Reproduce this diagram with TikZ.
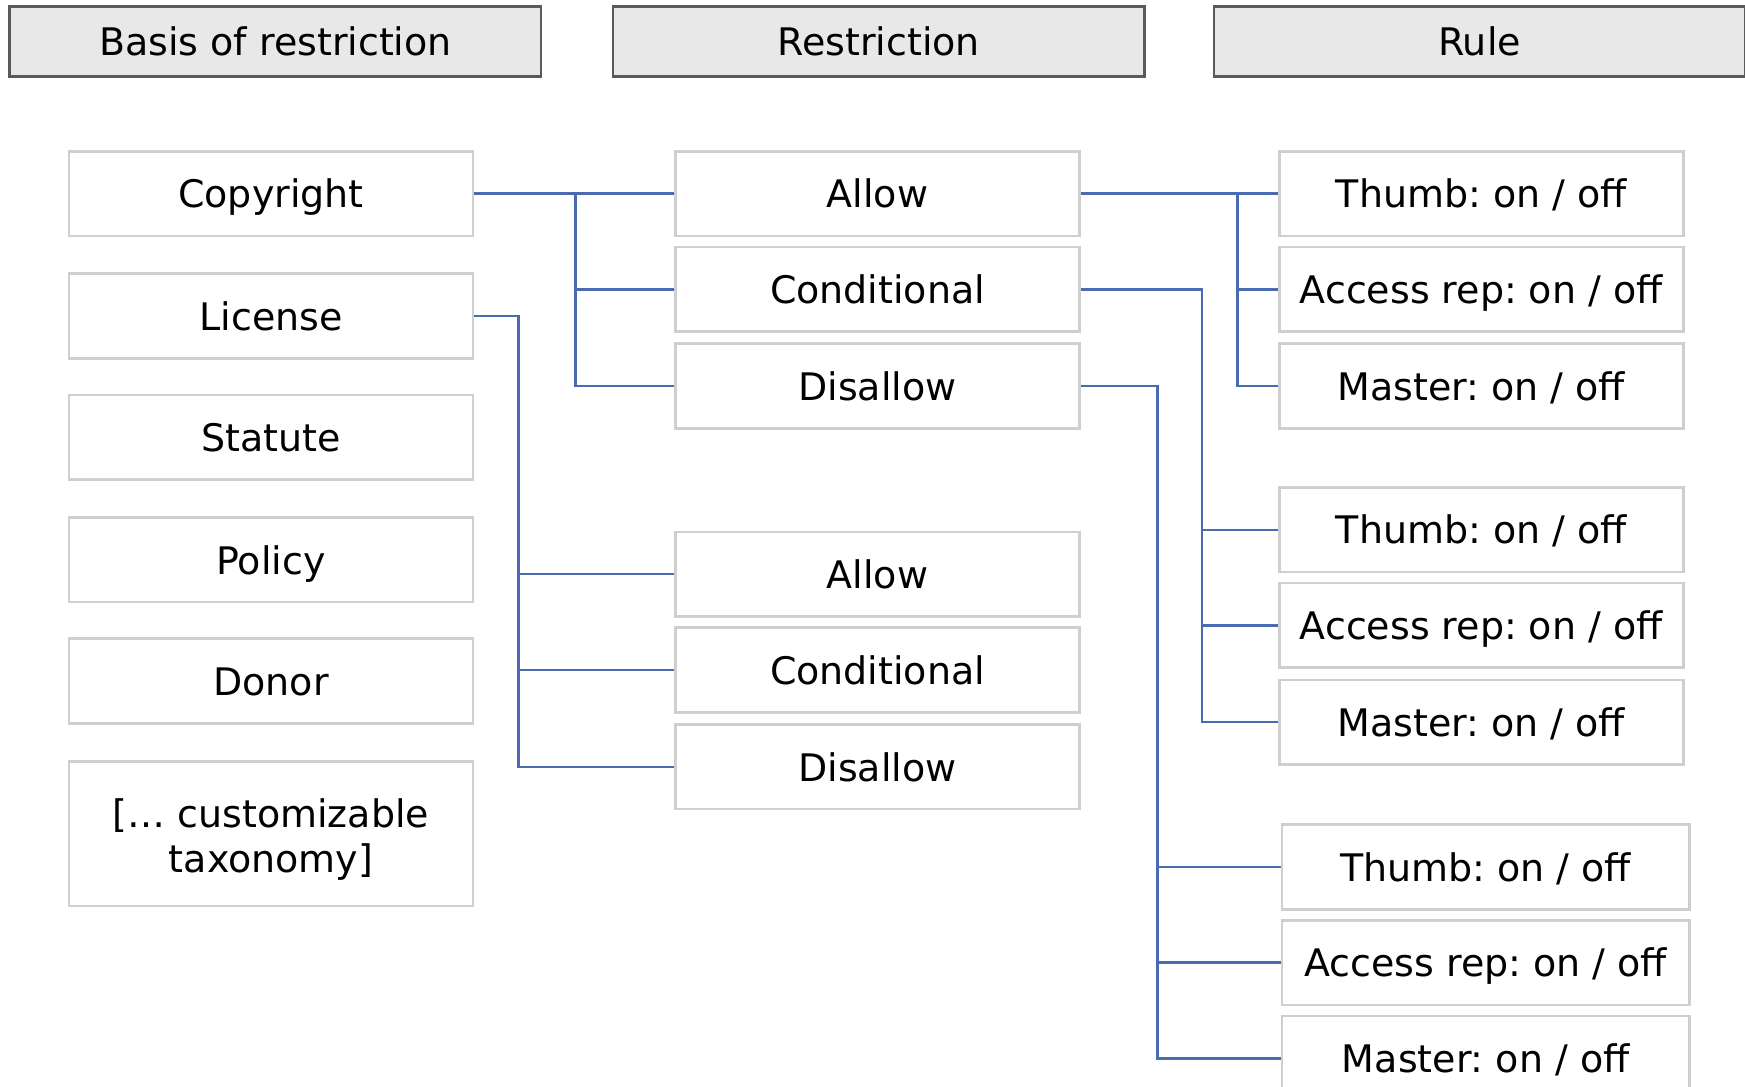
\documentclass[tikz,border=0pt]{standalone}
\usepackage{fontspec}
\setmainfont{DejaVu Sans}
\frenchspacing
\definecolor{linkblue}{HTML}{4A6BAE}
\definecolor{boxgray}{HTML}{CFCFCF}
\definecolor{headfill}{HTML}{E8E8E8}
\definecolor{headdraw}{HTML}{5A5A5A}
\tikzset{
  lbl/.style={font=\fontsize{9.7}{11.5}\selectfont, inner sep=0pt},
  box/.style={lbl, draw=boxgray, line width=0.7pt, fill=white, minimum width=3.63cm, minimum height=0.76cm, text height=0.729em, text depth=0pt, align=center},
  wbox/.style={box, minimum width=3.66cm},
  tallbox/.style={lbl, draw=boxgray, line width=0.7pt, fill=white, minimum width=3.63cm, minimum height=1.30cm},
  head/.style={lbl, draw=headdraw, fill=headfill, line width=0.7pt, minimum width=4.77cm, minimum height=0.63cm, text height=0.729em, text depth=0pt},
  link/.style={draw=linkblue, line width=0.6pt}
}
\begin{document}
\begin{tikzpicture}[x=0.01cm, y=-0.01cm]
\useasboundingbox (0,0) rectangle (1568,976);
% headers
\node[head] (h1) at (247.5,37.5) {Basis of restriction};
\node[head] (h2) at (789.5,37.5) {Restriction};
\node[head] (h3) at (1329.5,37.5) {Rule};
% left column
\node[box] (copy) at (243.5,174) {Copyright};
\node[box] (lic) at (243.5,284) {License};
\node[box] (stat) at (243.5,393) {Statute};
\node[box] (pol) at (243.5,503) {Policy};
\node[box] (don) at (243.5,612) {Donor};
\node[tallbox, label={[lbl, align=center, yshift=-0.05cm]center:{[\dots\ customizable\\taxonomy]}}] (tax) at (243.5,749) {};
% middle column
\node[box] (al1) at (788.5,174) {Allow};
\node[box] (con1) at (788.5,260) {Conditional};
\node[box] (dis1) at (788.5,347) {Disallow};
\node[box] (al2) at (788.5,516) {Allow};
\node[box] (con2) at (788.5,602) {Conditional};
\node[box] (dis2) at (788.5,689) {Disallow};
% right column
\node[box] (th1) at (1331,174) {Thumb: on / off};
\node[box] (ac1) at (1331,260) {Access rep: on / off};
\node[box] (ma1) at (1331,347) {Master: on / off};
\node[box] (th2) at (1331,476) {Thumb: on / off};
\node[box] (ac2) at (1331,562) {Access rep: on / off};
\node[box] (ma2) at (1331,649) {Master: on / off};
\node[wbox] (th3) at (1335,779) {Thumb: on / off};
\node[wbox] (ac3) at (1335,865) {Access rep: on / off};
\node[wbox] (ma3) at (1335,951) {Master: on / off};
% bus coordinates
\coordinate (b1) at (517,0);
\coordinate (b2) at (466,0);
\coordinate (b3) at (1112,0);
\coordinate (b4) at (1080,0);
\coordinate (b5) at (1040,0);
% connectors
\draw[link] (copy.east) -- (al1.west);
\draw[link] (b1 |- al1.west) |- (dis1.west);
\draw[link] (b1 |- con1.west) -- (con1.west);
\draw[link] (lic.east) -| (b2 |- dis2.west) -- (dis2.west);
\draw[link] (b2 |- al2.west) -- (al2.west);
\draw[link] (b2 |- con2.west) -- (con2.west);
\draw[link] (al1.east) -- (th1.west);
\draw[link] (b3 |- th1.west) |- (ma1.west);
\draw[link] (b3 |- ac1.west) -- (ac1.west);
\draw[link] (con1.east) -| (b4 |- ma2.west) -- (ma2.west);
\draw[link] (b4 |- th2.west) -- (th2.west);
\draw[link] (b4 |- ac2.west) -- (ac2.west);
\draw[link] (dis1.east) -| (b5 |- ma3.west) -- (ma3.west);
\draw[link] (b5 |- th3.west) -- (th3.west);
\draw[link] (b5 |- ac3.west) -- (ac3.west);
\end{tikzpicture}
\end{document}
